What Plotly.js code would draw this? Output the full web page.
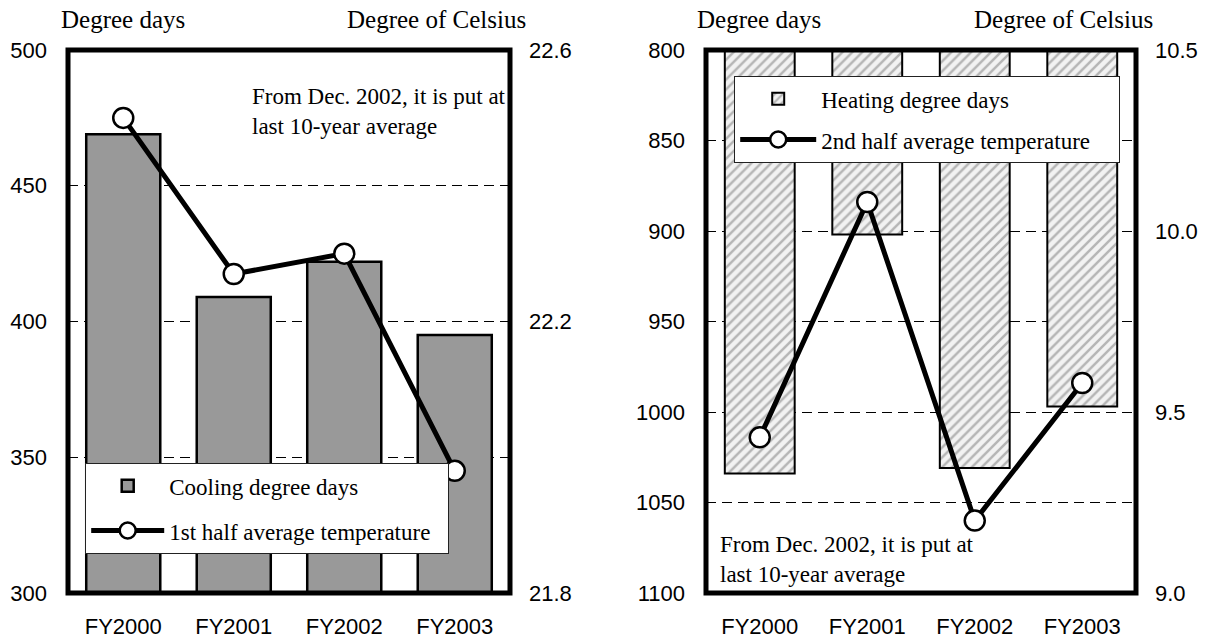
<!DOCTYPE html>
<html>
<head>
<meta charset="utf-8">
<script src="https://cdn.plot.ly/plotly-3.0.1.min.js"></script>
<style>html,body{margin:0;padding:0;background:#fff;}#chart{width:1210px;height:638px;}</style>
</head>
<body>
<div id="chart"></div>
<script>
// ---- data ----
const years = ['FY2000', 'FY2001', 'FY2002', 'FY2003'];
const coolingDegreeDays = [469, 409, 422, 395];
const firstHalfTemp = [22.50, 22.27, 22.30, 21.98];
const heatingDegreeDays = [1034, 902, 1031, 997];
const secondHalfTemp = [9.43, 10.08, 9.20, 9.58];
const leftTicksL = [300, 350, 400, 450, 500];
const leftTicksR = [21.8, 22.2, 22.6];
const rightTicksL = [800, 850, 900, 950, 1000, 1050, 1100];
const rightTicksR = [9.0, 9.5, 10.0, 10.5];
const noteText = 'From Dec. 2002, it is put at<br>last 10-year average';
const axisTitleL = 'Degree days';
const axisTitleR = 'Degree of Celsius';

// ---- layout constants ----
const W = 1210, H = 638;
const topPx = 50, botPx = 593;
const L1 = 68, R1 = 510, L2 = 706, R2 = 1136;
const serif = 'Liberation Serif, Times New Roman, serif';
const sans = 'Liberation Sans, Arial, sans-serif';
const yDom = [1 - botPx / H, 1 - topPx / H];
const tickFont = {family: sans, size: 22, color: '#000'};
const txtFont = {family: serif, size: 23, color: '#000'};
const titleFont = {family: serif, size: 25, color: '#000'};
const gridDash = '10px,6px';

const barLine = {color: '#000', width: 2.5};
const lineStyle = {color: '#000', width: 5};
const markerStyle = {symbol: 'circle', size: 20, color: '#fff', line: {color: '#000', width: 2.5}};
const nb = '\u00a0';

const traces = [
  {type: 'bar', x: years, y: coolingDegreeDays, xaxis: 'x', yaxis: 'y',
   name: 'Cooling degree days', width: 0.67,
   marker: {color: '#999999', line: barLine},
   legend: 'legend', legendgroup: 'a'},
  {type: 'scatter', mode: 'lines+markers', x: years, y: firstHalfTemp, xaxis: 'x', yaxis: 'y2',
   name: '1st half average temperature' + nb + nb, line: lineStyle, marker: markerStyle,
   legend: 'legend', legendgroup: 'b', cliponaxis: false},
  {type: 'bar', x: years, y: heatingDegreeDays, xaxis: 'x2', yaxis: 'y3',
   name: 'Heating degree days', width: 0.65,
   marker: {color: '#e6e6e6', line: {color: '#000', width: 2},
            pattern: {shape: '/', bgcolor: '#f2f2f2', fgcolor: '#b5b5b5', size: 7, solidity: 0.35}},
   legend: 'legend2', legendgroup: 'c'},
  {type: 'scatter', mode: 'lines+markers', x: years, y: secondHalfTemp, xaxis: 'x2', yaxis: 'y4',
   name: '2nd half average temperature' + nb + nb + nb + nb, line: lineStyle, marker: markerStyle,
   legend: 'legend2', legendgroup: 'd', cliponaxis: false}
];

function xAx(l, r, anchor) {
  return {domain: [l / W, r / W], anchor: anchor, type: 'category', range: [-0.5, 3.5],
          showgrid: false, zeroline: false, showline: false, ticks: '',
          tickfont: tickFont, ticklabelstandoff: 18, fixedrange: true};
}
function yAxL(range, vals, anchor) {
  return {domain: yDom, anchor: anchor, range: range, tickvals: vals, ticktext: vals.map(String),
          showgrid: true, gridcolor: '#000', gridwidth: 1, griddash: gridDash,
          zeroline: false, showline: false, ticks: '', tickfont: tickFont,
          ticklabelstandoff: 20, fixedrange: true};
}
function yAxR(range, vals, anchor, over) {
  return {domain: yDom, anchor: anchor, overlaying: over, side: 'right', range: range,
          tickvals: vals, ticktext: vals.map(v => v.toFixed(1)),
          showgrid: false, zeroline: false, showline: false, ticks: '', tickfont: tickFont,
          ticklabelstandoff: 18, fixedrange: true};
}

const legendBase = {bgcolor: '#fff', bordercolor: '#222', borderwidth: 1.2, font: txtFont,
                    traceorder: 'grouped', xanchor: 'left', yanchor: 'top',
                    itemclick: false, itemdoubleclick: false};

const frame = (xr, yr) => ({type: 'rect', xref: xr + ' domain', yref: yr + ' domain',
  x0: 0, x1: 1, y0: 0, y1: 1, line: {color: '#000', width: 5}, layer: 'above'});

const ann = (text, x, y, xa, ya, font) => ({text: text, xref: 'paper', yref: 'paper',
  x: x / W, y: 1 - y / H, xanchor: xa, yanchor: ya, align: 'left', showarrow: false, font: font});

const layout = {
  width: W, height: H, autosize: false,
  margin: {l: 0, r: 0, t: 0, b: 0},
  paper_bgcolor: '#fff', plot_bgcolor: '#fff',
  showlegend: true,
  barmode: 'overlay',
  xaxis: xAx(L1, R1, 'y'),
  yaxis: yAxL([300, 500], leftTicksL, 'x'),
  yaxis2: yAxR([21.8, 22.6], leftTicksR, 'x', 'y'),
  xaxis2: xAx(L2, R2, 'y3'),
  yaxis3: yAxL([1100, 800], rightTicksL, 'x2'),
  yaxis4: yAxR([9.0, 10.5], rightTicksR, 'x2', 'y3'),
  legend: Object.assign({}, legendBase, {x: 85 / W, y: 1 - 463 / H, itemwidth: 73, tracegroupgap: 12}),
  legend2: Object.assign({}, legendBase, {x: 734 / W, y: 1 - 76 / H, itemwidth: 76, tracegroupgap: 8}),
  shapes: [frame('x', 'y'), frame('x2', 'y3')],
  annotations: [
    ann(axisTitleL, L1 - 9, 20, 'left', 'middle', titleFont),
    ann(axisTitleR, R1 + 18, 20, 'right', 'middle', titleFont),
    ann(axisTitleL, L2 - 11, 20, 'left', 'middle', titleFont),
    ann(axisTitleR, R2 + 19, 20, 'right', 'middle', titleFont),
    ann(noteText, 250, 82, 'left', 'top', txtFont),
    ann(noteText, 718, 530, 'left', 'top', txtFont)
  ]
};

Plotly.newPlot('chart', traces, layout, {staticPlot: true, displayModeBar: false});
</script>
</body>
</html>
